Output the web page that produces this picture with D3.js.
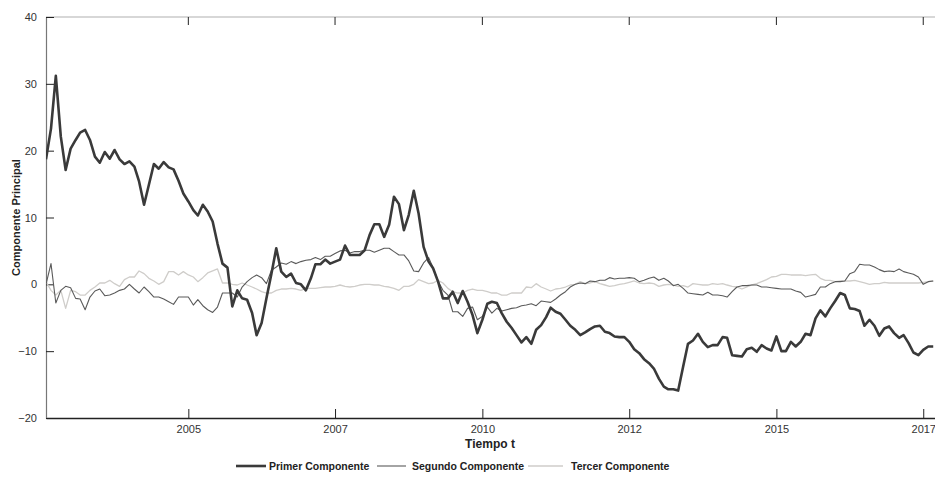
<!DOCTYPE html>
<html>
<head>
<meta charset="utf-8">
<script src="https://cdn.jsdelivr.net/npm/d3@7"></script>
<style>
  html, body { margin: 0; padding: 0; background: #fff; }
  svg { display: block; font-family: "Liberation Sans", Arial, sans-serif; }
</style>
</head>
<body>
<svg id="chart" width="935" height="481"></svg>
<script>
// Monthly observations, first month of the sample
const startYear = 2002, startMonth = 7; // August 2002 (0-based month)

const primerComponente = [
  18.7, 23.3, 31.2, 22.1, 17.1, 20.3, 21.6, 22.7, 23.1, 21.6,
  19.1, 18.2, 19.8, 18.8, 20.1, 18.7, 18.0, 18.4, 17.6, 15.4,
  11.9, 14.9, 18.0, 17.3, 18.3, 17.5, 17.2, 15.5, 13.6, 12.4,
  11.1, 10.3, 11.9, 10.9, 9.4, 6.1, 3.1, 2.5, -3.3, -0.9,
  -2.1, -2.3, -4.3, -7.6, -5.8, -2.1, 1.6, 5.4, 1.9, 1.1,
  1.6, 0.2, 0.0, -0.9, 0.9, 3.0, 3.0, 3.7, 3.1, 3.4,
  3.7, 5.8, 4.4, 4.4, 4.4, 5.1, 7.4, 9.0, 9.0, 7.1,
  8.9, 13.1, 12.0, 8.1, 10.4, 14.0, 10.6, 5.6, 3.4, 2.4,
  0.4, -2.1, -2.1, -1.1, -2.8, -1.0, -2.6, -4.6, -7.3, -5.3,
  -2.9, -2.6, -2.8, -4.3, -5.6, -6.5, -7.6, -8.7, -7.9, -8.9,
  -6.8, -6.1, -4.9, -3.5, -4.1, -4.4, -5.3, -6.2, -6.8, -7.6,
  -7.2, -6.7, -6.3, -6.2, -7.1, -7.3, -7.8, -7.9, -7.9, -8.6,
  -9.7, -10.3, -11.2, -11.8, -12.6, -14.1, -15.3, -15.7, -15.7, -15.9,
  -12.3, -8.9, -8.4, -7.4, -8.6, -9.4, -9.1, -9.1, -7.9, -8.0,
  -10.6, -10.7, -10.8, -9.7, -9.5, -10.1, -9.1, -9.6, -9.9, -7.8,
  -10.0, -10.0, -8.6, -9.3, -8.6, -7.4, -7.6, -5.1, -3.9, -4.8,
  -3.6, -2.5, -1.3, -1.6, -3.6, -3.7, -4.0, -6.2, -5.3, -6.2,
  -7.7, -6.6, -6.3, -7.3, -8.0, -7.6, -8.8, -10.2, -10.6, -9.8,
  -9.3, -9.3
];

const segundoComponente = [
  0.0, 3.1, -2.8, -0.9, -0.3, -0.5, -2.1, -2.2, -3.8, -1.9,
  -1.0, -0.7, -1.7, -1.6, -1.3, -0.9, -0.7, 0.0, -0.7, -1.3,
  -0.4, -1.1, -1.9, -1.9, -2.2, -2.6, -3.0, -1.9, -1.9, -1.9,
  -3.1, -2.3, -3.2, -3.8, -4.2, -3.4, -1.3, -1.3, -1.3, -1.9,
  -0.4, 0.4, 1.0, 1.4, 1.0, 0.1, 2.1, 2.6, 3.2, 3.0,
  3.4, 3.1, 3.4, 3.6, 3.7, 4.0, 3.7, 4.2, 4.2, 4.6,
  5.0, 5.1, 4.7, 4.9, 4.9, 5.1, 5.1, 4.8, 5.1, 5.4,
  5.4, 4.9, 4.4, 4.4, 3.5, 2.0, 1.9, 3.2, 4.0, 2.5,
  0.5, -0.9, -1.6, -4.1, -4.1, -4.8, -3.6, -3.4, -5.3, -4.8,
  -3.4, -4.3, -3.6, -4.0, -3.8, -3.6, -3.5, -3.2, -3.1, -2.9,
  -3.2, -2.5, -2.6, -2.7, -2.2, -1.6, -1.1, -0.4, 0.0, 0.2,
  0.1, 0.5, 0.4, 0.6, 0.6, 1.0, 0.8, 0.9, 0.9, 1.0,
  0.9, 0.4, 0.6, 0.9, 1.1, 0.6, 0.9, 0.5, -0.2, 0.0,
  -0.6, -1.3, -1.4, -1.5, -1.6, -1.2, -1.6, -1.6, -1.7, -1.9,
  -1.1, -0.4, -0.2, -0.2, -0.1, -0.1, -0.4, -0.4, -0.5, -0.6,
  -0.7, -0.7, -0.7, -1.0, -1.2, -1.9, -1.7, -1.5, -0.4, -0.4,
  0.1, 0.4, 0.4, 0.5, 1.6, 1.9, 3.0, 2.9, 2.9, 2.6,
  2.2, 1.9, 2.0, 1.9, 2.3, 1.9, 1.7, 1.5, 1.1, 0.0,
  0.4, 0.5
];

const tercerComponente = [
  0.4, -0.9, -1.6, -0.9, -3.6, -0.9, -1.1, -1.6, -1.6, -0.9,
  -0.4, 0.2, 0.2, 0.6, 0.1, -0.3, 0.7, 1.1, 1.1, 2.0,
  1.6, 0.9, 0.5, 0.0, 0.4, 1.9, 1.9, 1.4, 1.9, 1.4,
  1.1, 0.4, 1.0, 1.7, 2.0, 2.3, 0.2, 0.2, 0.0, -0.1,
  0.2, -0.1, -0.4, -0.7, -1.1, -1.3, -1.3, -0.9, -0.7, -0.7,
  -0.6, -0.7, -0.9, -0.6, -0.6, -0.6, -0.5, -0.4, -0.4, -0.3,
  -0.1, -0.3, -0.4, -0.3, -0.1, 0.0, 0.0, -0.1, -0.1, -0.3,
  -0.4, -0.6, -0.9, -0.3, -0.3, 0.0, 0.7, 0.4, 0.1, 0.2,
  0.6, 0.2, -0.6, -1.1, -1.3, -1.3, -0.9, -0.7, -0.9, -0.9,
  -1.1, -1.3, -1.3, -1.6, -1.6, -1.3, -1.3, -1.3, -0.4, -0.5,
  0.1, -0.4, -0.7, -1.0, -0.7, -0.6, -0.4, -0.1, 0.0, 0.4,
  0.1, 0.2, 0.4, 0.1, -0.1, -0.3, -0.2, 0.0, 0.1, 0.3,
  0.5, 0.2, 0.1, 0.2, 0.1, -0.3, -0.1, 0.0, -0.1, -0.3,
  -0.2, -0.4, 0.1, 0.0, -0.1, -0.1, 0.1, 0.0, 0.1, -0.1,
  -0.3, -0.4, -0.7, -0.4, -0.1, 0.1, 0.4, 0.7, 1.1, 1.2,
  1.5, 1.5, 1.4, 1.4, 1.4, 1.3, 1.4, 1.5, 0.9, 0.6,
  0.6, 0.4, 0.5, 0.5, 0.5, 0.6, 0.4, 0.2, 0.0, 0.1,
  0.1, 0.3, 0.2, 0.2, 0.2, 0.2, 0.2, 0.2, 0.2, 0.3,
  0.4, 0.5
];

const seriesNames = ["Primer Componente", "Segundo Componente", "Tercer Componente"];
const xTickDates = [[2005, 0], [2007, 6], [2010, 0], [2012, 6], [2015, 0], [2017, 6]];
const yTicks = [-20, -10, 0, 10, 20, 30, 40];

const dates = primerComponente.map((_, i) => new Date(startYear, startMonth + i, 1));

const svg = d3.select("#chart");
const plotLeft = 46, plotRight = 935, plotTop = 17, plotBottom = 418;

const x = d3.scaleTime()
  .domain([new Date(2002, 7, 1), new Date(2017, 8, 12)])
  .range([plotLeft, plotRight]);
const y = d3.scaleLinear().domain([-20, 40]).range([plotBottom, plotTop]);

const tickValues = xTickDates.map(([yy, mm]) => new Date(yy, mm, 1));

svg.append("defs").append("clipPath").attr("id", "plotClip")
  .append("rect").attr("x", plotLeft).attr("y", plotTop - 2)
  .attr("width", plotRight - plotLeft).attr("height", plotBottom - plotTop + 4);

// Top frame line with inward ticks
svg.append("line").attr("x1", plotLeft).attr("x2", plotRight)
  .attr("y1", plotTop).attr("y2", plotTop)
  .attr("stroke", "#b0b0b0").attr("stroke-width", 1.2);
svg.append("g").selectAll("line").data(tickValues).join("line")
  .attr("x1", d => x(d)).attr("x2", d => x(d))
  .attr("y1", plotTop).attr("y2", plotTop + 8)
  .attr("stroke", "#222").attr("stroke-width", 1);

// Bottom axis, ticks pointing into the plot
const xAxis = d3.axisBottom(x)
  .tickValues(tickValues)
  .tickFormat(d3.timeFormat("%Y"))
  .tickSizeInner(-9).tickSizeOuter(0).tickPadding(7);
const gx = svg.append("g").attr("transform", `translate(0,${plotBottom})`).call(xAxis);
gx.select(".domain").attr("stroke", "#222").attr("stroke-width", 1.3);
gx.selectAll(".tick line").attr("stroke", "#222");
gx.selectAll(".tick text").attr("font-size", 11).attr("fill", "#333")
  .attr("font-family", "'Liberation Sans', Arial, sans-serif");

// Left axis, ticks pointing into the plot
const yAxis = d3.axisLeft(y).tickValues(yTicks)
  .tickSizeInner(-8).tickSizeOuter(0).tickPadding(9);
const gy = svg.append("g").attr("transform", `translate(${plotLeft},0)`).call(yAxis);
gy.select(".domain").attr("stroke", "#777").attr("stroke-width", 1.2);
gy.selectAll(".tick line").attr("stroke", "#222");
gy.selectAll(".tick text").attr("font-size", 11).attr("fill", "#333")
  .attr("font-family", "'Liberation Sans', Arial, sans-serif");

// Series lines
const styles = [
  { color: "#3a3a3a", width: 2.6 },
  { color: "#5a5a5a", width: 1.1 },
  { color: "#cfcdca", width: 1.3 }
];
const allSeries = [primerComponente, segundoComponente, tercerComponente];
const line = d3.line().x((d, i) => x(dates[i])).y(d => y(d));

const plot = svg.append("g").attr("clip-path", "url(#plotClip)");
[2, 1, 0].forEach(k => {
  plot.append("path").datum(allSeries[k])
    .attr("fill", "none")
    .attr("stroke", styles[k].color)
    .attr("stroke-width", styles[k].width)
    .attr("stroke-linejoin", "round")
    .attr("d", line);
});

// Axis titles
svg.append("text").attr("x", 490).attr("y", 448)
  .attr("text-anchor", "middle").attr("font-size", 12).attr("font-weight", "bold")
  .attr("fill", "#222").text("Tiempo t");
svg.append("text")
  .attr("transform", `translate(20,${(plotTop + plotBottom) / 2}) rotate(-90)`)
  .attr("text-anchor", "middle").attr("font-size", 11).attr("font-weight", "bold")
  .attr("fill", "#222").text("Componente Principal");

// Legend
const legendItems = [
  { x1: 236, x2: 266, tx: 269 },
  { x1: 377, x2: 406, tx: 412 },
  { x1: 528, x2: 563, tx: 571 }
];
const legend = svg.append("g");
legendItems.forEach((it, k) => {
  legend.append("line").attr("x1", it.x1).attr("x2", it.x2)
    .attr("y1", 466).attr("y2", 466)
    .attr("stroke", styles[k].color).attr("stroke-width", styles[k].width);
  legend.append("text").attr("x", it.tx).attr("y", 470)
    .attr("font-size", 10.5).attr("font-weight", "bold").attr("fill", "#222")
    .text(seriesNames[k]);
});
</script>
</body>
</html>
